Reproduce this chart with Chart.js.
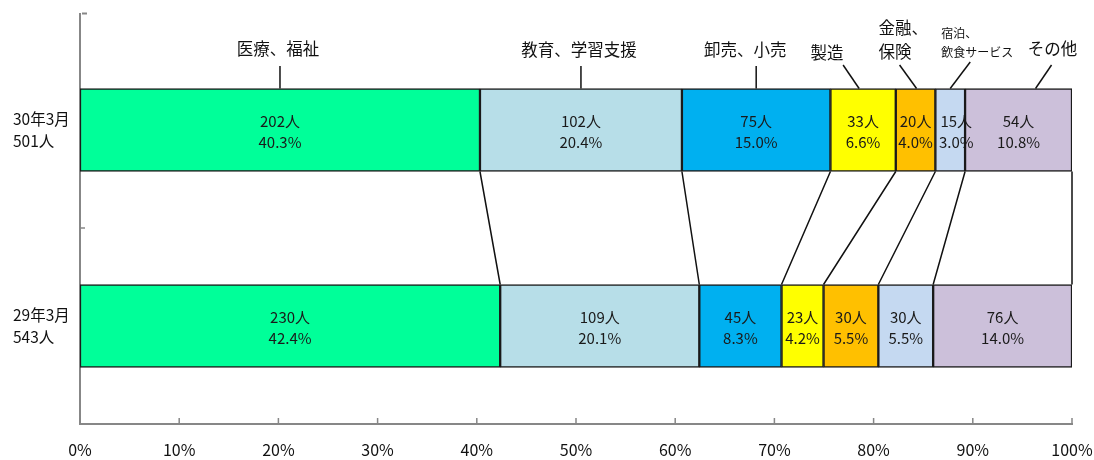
<!DOCTYPE html>
<html lang="ja">
<head>
<meta charset="utf-8">
<title>産業別 就職者数</title>
<script src="https://cdn.jsdelivr.net/npm/chart.js@4/dist/chart.umd.min.js"></script>
<style>
  html, body { margin: 0; padding: 0; background: #fff; }
  #wrap { width: 1094px; height: 460px; }
</style>
</head>
<body>
<div id="wrap"><canvas id="chart" width="1094" height="460"></canvas></div>
<script>
// ---- data ----
const periods = [['30年3月', '501人'], ['29年3月', '543人']];
const industries = ['医療、福祉', '教育、学習支援', '卸売、小売', '製造', '金融、保険', '宿泊、飲食サービス', 'その他'];
const counts2018 = [202, 102, 75, 33, 20, 15, 54];
const counts2017 = [230, 109, 45, 23, 30, 30, 76];
const total2018 = 501;
const total2017 = 543;
const xTicks = [0, 10, 20, 30, 40, 50, 60, 70, 80, 90, 100];

const colors = ['#00FF99', '#B7DEE8', '#00B0F0', '#FFFF00', '#FFC000', '#C5D9F1', '#CCC0DA'];
const FONT = '"Noto Sans CJK JP", "Noto Sans", sans-serif';

// label placement above the top bar (px, relative to segment centre)
const catLabelLayout = [
  { lines: ['医療、福祉'], size: 16.5, align: 'center', dx: -2, ys: [49], from: [0, 66], to: 0 },
  { lines: ['教育、学習支援'], size: 16.5, align: 'center', dx: -2, ys: [50], from: [0, 66], to: 0 },
  { lines: ['卸売、小売'], size: 16.5, align: 'center', dx: -11, ys: [50], from: [0, 66], to: 0 },
  { lines: ['製造'], size: 16.5, align: 'center', dx: -36, ys: [53], from: [-20, 65], to: -4 },
  { lines: ['金融、', '保険'], size: 16.5, align: 'left', dx: -37, ys: [28, 52], from: [-16, 65], to: 1 },
  { lines: ['宿泊、', '飲食サービス'], size: 12, align: 'left', dx: -9, ys: [33, 52], from: [20, 62], to: 0 },
  { lines: ['その他'], size: 16.5, align: 'center', dx: 34, ys: [49], from: [33, 65], to: 17 }
];
// the narrow 宿泊 segment on the top bar has its value label nudged right
const valueNudge = { '5-0': 6 };

const datasets = industries.map((name, i) => ({
  label: name,
  data: [counts2018[i] / total2018 * 100, counts2017[i] / total2017 * 100],
  counts: [counts2018[i], counts2017[i]],
  backgroundColor: colors[i],
  borderColor: '#1a1a1a',
  borderWidth: 1.5,
  borderSkipped: false,
  barThickness: 83
}));

// axis ticks, series lines, labels
const decorations = {
  id: 'decorations',
  afterDatasetsDraw(chart) {
    const ctx = chart.ctx;
    const area = chart.chartArea;
    const xs = chart.scales.x, ys = chart.scales.y;
    ctx.save();

    // axis extras
    ctx.strokeStyle = '#878787';
    ctx.lineWidth = 1.5;
    ctx.beginPath();
    xTicks.forEach(v => {
      const px = xs.getPixelForValue(v);
      ctx.moveTo(px, area.bottom - 6);
      ctx.lineTo(px, area.bottom);
    });
    const midY = (ys.getPixelForValue(0) + ys.getPixelForValue(1)) / 2;
    ctx.moveTo(area.left, midY);
    ctx.lineTo(area.left + 5, midY);
    ctx.stroke();
    ctx.lineWidth = 2;
    ctx.beginPath();
    ctx.moveTo(area.left, area.top);
    ctx.lineTo(area.left, 13);
    ctx.moveTo(area.left + 2, 13.5);
    ctx.lineTo(area.left + 7, 13.5);
    ctx.stroke();

    // series lines between the two bars
    ctx.strokeStyle = '#111';
    ctx.lineWidth = 1.5;
    ctx.beginPath();
    chart.data.datasets.forEach((ds, i) => {
      const meta = chart.getDatasetMeta(i);
      const a = meta.data[0], b = meta.data[1];
      ctx.moveTo(a.x, a.y + a.height / 2);
      ctx.lineTo(b.x, b.y - b.height / 2);
    });
    ctx.stroke();

    // values inside segments
    ctx.fillStyle = '#1a1a1a';
    ctx.font = '15px ' + FONT;
    ctx.textAlign = 'center';
    ctx.textBaseline = 'middle';
    chart.data.datasets.forEach((ds, i) => {
      const meta = chart.getDatasetMeta(i);
      meta.data.forEach((bar, j) => {
        const cx = (bar.x + bar.base) / 2 + (valueNudge[i + '-' + j] || 0);
        ctx.fillText(ds.counts[j] + '人', cx, bar.y - 9);
        ctx.fillText(ds.data[j].toFixed(1) + '%', cx, bar.y + 12);
      });
    });

    // industry names with leader lines
    ctx.fillStyle = '#111';
    ctx.strokeStyle = '#111';
    ctx.lineWidth = 1.5;
    catLabelLayout.forEach((lab, i) => {
      const bar = chart.getDatasetMeta(i).data[0];
      const cx = (bar.x + bar.base) / 2;
      const top = bar.y - bar.height / 2;
      ctx.font = lab.size + 'px ' + FONT;
      ctx.textAlign = lab.align;
      lab.lines.forEach((t, k) => ctx.fillText(t, cx + lab.dx, lab.ys[k]));
      ctx.beginPath();
      ctx.moveTo(cx + lab.from[0], lab.from[1]);
      ctx.lineTo(cx + lab.to, top);
      ctx.stroke();
    });

    ctx.restore();
  }
};

new Chart(document.getElementById('chart'), {
  type: 'bar',
  data: { labels: periods, datasets: datasets },
  options: {
    indexAxis: 'y',
    responsive: false,
    animation: false,
    layout: { padding: { left: 13, right: 0, top: 32, bottom: 0 } },
    plugins: { legend: { display: false }, tooltip: { enabled: false } },
    scales: {
      x: {
        stacked: true,
        min: 0,
        max: 100,
        grid: { display: false, drawTicks: false },
        border: { display: true, color: '#878787', width: 2 },
        ticks: {
          stepSize: 10,
          padding: 16,
          color: '#111',
          font: { family: FONT, size: 16 },
          callback: v => v + '%'
        },
        afterFit: s => { s.height = 36; s.paddingLeft = 0; s.paddingRight = 22; }
      },
      y: {
        stacked: true,
        grid: { display: false, drawTicks: false },
        border: { display: true, color: '#878787', width: 2 },
        ticks: {
          crossAlign: 'far',
          color: '#111',
          font: { family: FONT, size: 15.5, lineHeight: 1.4 }
        },
        afterFit: s => { s.width = 67; }
      }
    }
  },
  plugins: [decorations]
});
</script>
</body>
</html>
